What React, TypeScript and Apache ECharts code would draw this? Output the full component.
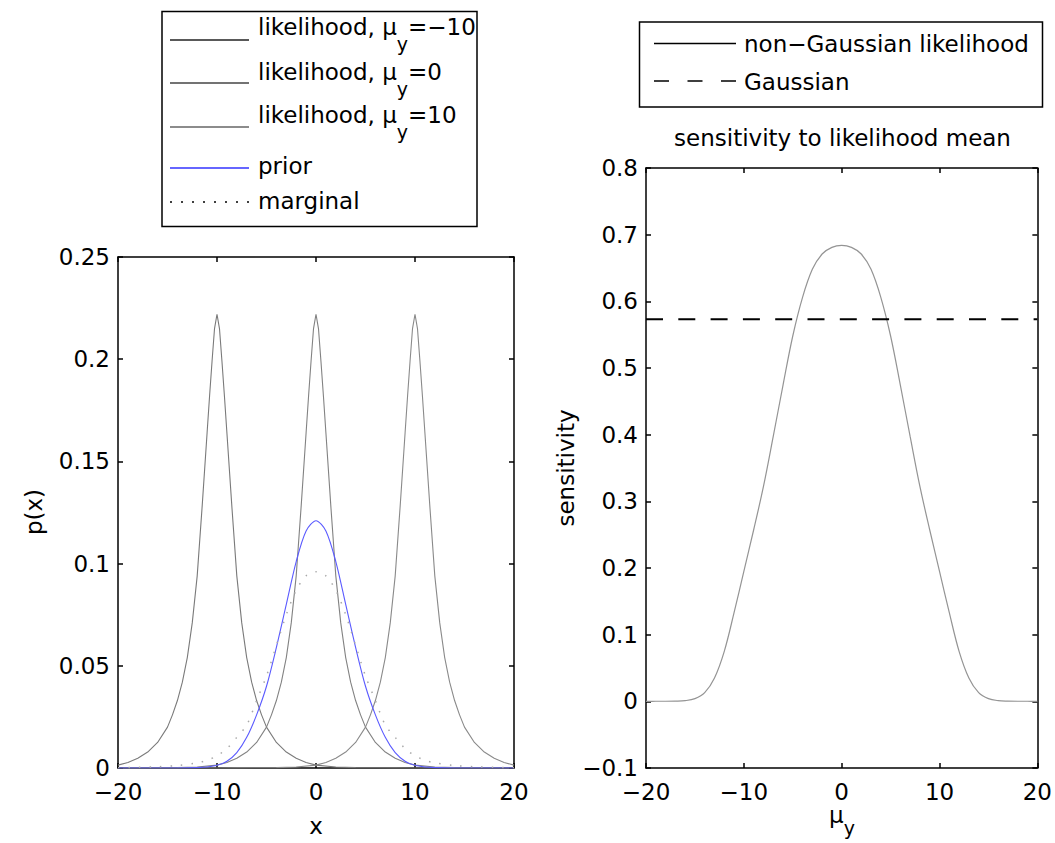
import React, { useEffect, useRef } from 'react';
import * as echarts from 'echarts';

// ---------- data ----------
// likelihood curves (same shape, centred at each mean)
const likelihoodMeans = [-10, 0, 10];
const likelihoodLabels = ['\u221210', '0', '10'];
const likelihoodOffsets = [0, 0.25, 0.5, 0.75, 1, 1.5, 2, 2.5, 3, 3.5, 4, 4.5, 5, 6, 7, 8, 9, 10, 12, 14, 16, 18, 20, 25, 30];
const likelihoodValues = [0.222, 0.215, 0.199, 0.182, 0.164, 0.128, 0.094, 0.071, 0.054, 0.042, 0.033, 0.026, 0.02, 0.0125, 0.0078, 0.0048, 0.0027, 0.0014, 0.0005, 0.0002, 0.0001, 0.00005, 0.00003, 0.00001, 0];

// prior and marginal
const densityX = [-20, -18, -16, -14, -12, -11, -10, -9, -8, -7, -6, -5, -4, -3, -2, -1, 0, 1, 2, 3, 4, 5, 6, 7, 8, 9, 10, 11, 12, 14, 16, 18, 20];
const priorY = [0, 0, 0.00001, 0.00003, 0.0002, 0.0005, 0.0013, 0.0033, 0.0075, 0.015, 0.026, 0.04, 0.059, 0.08, 0.101, 0.116, 0.121, 0.116, 0.101, 0.08, 0.059, 0.04, 0.026, 0.015, 0.0075, 0.0033, 0.0013, 0.0005, 0.0002, 0.00003, 0.00001, 0, 0];
const marginalY = [0.0002, 0.0003, 0.0006, 0.0012, 0.0025, 0.0038, 0.006, 0.0095, 0.015, 0.021, 0.033, 0.045, 0.06, 0.075, 0.087, 0.094, 0.096, 0.094, 0.087, 0.075, 0.06, 0.045, 0.033, 0.021, 0.015, 0.0095, 0.006, 0.0038, 0.0025, 0.0012, 0.0006, 0.0003, 0.0002];

// sensitivity to likelihood mean
const sensitivityMu = [-20, -19, -18, -17, -16, -15, -14, -13, -12, -11, -10, -9, -8, -7, -6, -5, -4, -3, -2, -1, 0, 1, 2, 3, 4, 5, 6, 7, 8, 9, 10, 11, 12, 13, 14, 15, 16, 17, 18, 19, 20];
const sensitivityNonGaussian = [0, 0.0001, 0.0001, 0.0003, 0.001, 0.004, 0.013, 0.035, 0.075, 0.133, 0.195, 0.257, 0.322, 0.397, 0.474, 0.548, 0.606, 0.648, 0.671, 0.681, 0.684, 0.681, 0.671, 0.648, 0.606, 0.548, 0.474, 0.397, 0.322, 0.257, 0.195, 0.133, 0.075, 0.035, 0.013, 0.004, 0.001, 0.0003, 0.0001, 0.0001, 0];
const gaussianMu = [-20, 20];
const gaussianSensitivity = [0.573, 0.573];

// axes
const leftXTicks = { min: -20, max: 20, interval: 10 };
const leftYTicks = { min: 0, max: 0.25, interval: 0.05 };
const rightXTicks = { min: -20, max: 20, interval: 10 };
const rightYTicks = { min: -0.1, max: 0.8, interval: 0.1 };

// ---------- styling ----------
const FONT = 'DejaVu Sans';
const FS = 23;
const likelihoodPlotColors = ['#7a7a7a', '#828282', '#8a8a8a'];
const likelihoodLegendColors = ['#222', '#444', '#666'];

const fmt = (v: number) => String(v).replace('-', '\u2212');

function likelihoodPoints(mean: number) {
  const pts: [number, number][] = [];
  for (let i = likelihoodOffsets.length - 1; i >= 0; i--) {
    const x = mean - likelihoodOffsets[i];
    if (x >= -20 && x <= 20 && likelihoodOffsets[i] !== 0) pts.push([x, likelihoodValues[i]]);
  }
  for (let i = 0; i < likelihoodOffsets.length; i++) {
    const x = mean + likelihoodOffsets[i];
    if (x >= -20 && x <= 20) pts.push([x, likelihoodValues[i]]);
  }
  return pts;
}

const axisBase = (grid: number, pos: string, ticks: any, labels: boolean, margin: number) => ({
  type: 'value',
  gridIndex: grid,
  position: pos,
  min: ticks.min,
  max: ticks.max,
  interval: ticks.interval,
  axisLine: { show: true, onZero: false, lineStyle: { color: '#000', width: 1.5 } },
  axisTick: { show: true, inside: true, length: 5, lineStyle: { color: '#000', width: 1.5 } },
  splitLine: { show: false },
  axisLabel: labels
    ? { show: true, fontFamily: FONT, fontSize: FS, color: '#000', margin, formatter: fmt }
    : { show: false },
});

const richMain = { fontFamily: FONT, fontSize: FS, lineHeight: FS, verticalAlign: 'top', fill: '#000', color: '#000' };
const richSub = { fontFamily: FONT, fontSize: 19, lineHeight: 19, verticalAlign: 'top', padding: [19.4, 0, 0, 0], fill: '#000', color: '#000' };
const richSubAxis = { fontFamily: FONT, fontSize: 19, lineHeight: 19, verticalAlign: 'top', padding: [15, 0, 0, 0], fill: '#000', color: '#000' };

function textEl(text: string, x: number, y: number, align: string, vAlign: string, extra: any = {}, sub: any = richSub) {
  return {
    type: 'text',
    x,
    y,
    ...extra,
    style: {
      text,
      fontFamily: FONT,
      fontSize: FS,
      fill: '#000',
      align,
      textAlign: align,
      verticalAlign: vAlign,
      textVerticalAlign: vAlign,
      rich: { m: richMain, s: sub },
    },
  };
}

function lineEl(x1: number, y1: number, x2: number, y2: number, stroke: string, lineWidth: number, lineDash?: number[]) {
  return {
    type: 'line',
    shape: { x1, y1, x2, y2 },
    style: { stroke, lineWidth, lineDash: lineDash || null },
  };
}

function buildOption() {
  const series: any[] = [];
  likelihoodMeans.forEach((m, i) => {
    series.push({
      type: 'line',
      name: 'likelihood, \u03bcy=' + likelihoodLabels[i],
      xAxisIndex: 0,
      yAxisIndex: 0,
      data: likelihoodPoints(m),
      showSymbol: false,
      symbol: 'none',
      lineStyle: { color: likelihoodPlotColors[i], width: 1.1 },
    });
  });
  series.push({
    type: 'line',
    name: 'prior',
    xAxisIndex: 0,
    yAxisIndex: 0,
    data: densityX.map((x, i) => [x, priorY[i]]),
    showSymbol: false,
    symbol: 'none',
    smooth: 0.3,
    lineStyle: { color: '#5a5aff', width: 1.1 },
  });
  series.push({
    type: 'line',
    name: 'marginal',
    xAxisIndex: 0,
    yAxisIndex: 0,
    data: densityX.map((x, i) => [x, marginalY[i]]),
    showSymbol: false,
    symbol: 'none',
    smooth: 0.3,
    lineStyle: { color: '#a8a8a8', width: 1.5, type: [1.5, 9] },
  });
  series.push({
    type: 'line',
    name: 'non\u2212Gaussian likelihood',
    xAxisIndex: 2,
    yAxisIndex: 2,
    data: sensitivityMu.map((x, i) => [x, sensitivityNonGaussian[i]]),
    showSymbol: false,
    symbol: 'none',
    smooth: 0.35,
    lineStyle: { color: '#949494', width: 1.2 },
  });
  series.push({
    type: 'line',
    name: 'Gaussian',
    xAxisIndex: 2,
    yAxisIndex: 2,
    data: gaussianMu.map((x, i) => [x, gaussianSensitivity[i]]),
    showSymbol: false,
    symbol: 'none',
    lineStyle: { color: '#000', width: 2, type: [17, 15.3] },
  });

  const legendRows = [
    { text: '{m|likelihood, \u03bc}{s|y}{m|=\u221210}', top: 15, lineY: 40, color: likelihoodLegendColors[0] },
    { text: '{m|likelihood, \u03bc}{s|y}{m|=0}', top: 60, lineY: 83, color: likelihoodLegendColors[1] },
    { text: '{m|likelihood, \u03bc}{s|y}{m|=10}', top: 103.5, lineY: 127, color: likelihoodLegendColors[2] },
  ];

  const graphic: any[] = [
    // left legend
    { type: 'rect', shape: { x: 162, y: 11.5, width: 315, height: 215 }, style: { fill: '#fff', stroke: '#000', lineWidth: 1.5 } },
    ...legendRows.flatMap((r) => [
      lineEl(170, r.lineY, 249, r.lineY, r.color, 1.5),
      textEl(r.text, 258, r.top, 'left', 'top'),
    ]),
    lineEl(170, 168, 249, 168, '#3333ff', 1.5),
    textEl('prior', 258, 166, 'left', 'middle'),
    lineEl(170, 202, 249, 202, '#000', 1.5, [2, 9]),
    textEl('marginal', 258, 201, 'left', 'middle'),

    // right legend
    { type: 'rect', shape: { x: 639.5, y: 22, width: 403, height: 85 }, style: { fill: '#fff', stroke: '#000', lineWidth: 1.5 } },
    lineEl(654, 43.5, 736, 43.5, '#000', 1.5),
    textEl('non\u2212Gaussian likelihood', 744, 43.5, 'left', 'middle'),
    lineEl(654, 81, 736, 81, '#000', 1.5, [15, 18.5]),
    textEl('Gaussian', 744, 82, 'left', 'middle'),

    // title and axis names
    textEl('sensitivity to likelihood mean', 842.5, 138, 'center', 'middle'),
    textEl('x', 316, 826, 'center', 'middle'),
    textEl('p(x)', 34, 512, 'center', 'middle', { rotation: Math.PI / 2 }),
    textEl('sensitivity', 566, 468, 'center', 'middle', { rotation: Math.PI / 2 }),
    textEl('{m|\u03bc}{s|y}', 842, 803, 'center', 'top', {}, richSubAxis),
  ];

  return {
    animation: false,
    backgroundColor: '#fff',
    grid: [
      { left: 118, top: 257, width: 396, height: 511, show: false, containLabel: false },
      { left: 646, top: 168, width: 392, height: 600, show: false, containLabel: false },
    ],
    xAxis: [
      axisBase(0, 'bottom', leftXTicks, true, 12),
      axisBase(0, 'top', leftXTicks, false, 0),
      axisBase(1, 'bottom', rightXTicks, true, 12),
      axisBase(1, 'top', rightXTicks, false, 0),
    ],
    yAxis: [
      axisBase(0, 'left', leftYTicks, true, 8),
      axisBase(0, 'right', leftYTicks, false, 0),
      axisBase(1, 'left', rightYTicks, true, 8),
      axisBase(1, 'right', rightYTicks, false, 0),
    ],
    series,
    graphic,
  };
}

export default function App() {
  const ref = useRef<HTMLDivElement>(null);
  useEffect(() => {
    if (!ref.current) return;
    const chart = echarts.init(ref.current, null, { renderer: 'svg' });
    chart.setOption(buildOption() as any);
    return () => chart.dispose();
  }, []);
  return (
    <div
      ref={ref}
      style={{ position: 'fixed', left: 0, top: 0, width: 1055, height: 843, background: '#fff' }}
    />
  );
}
